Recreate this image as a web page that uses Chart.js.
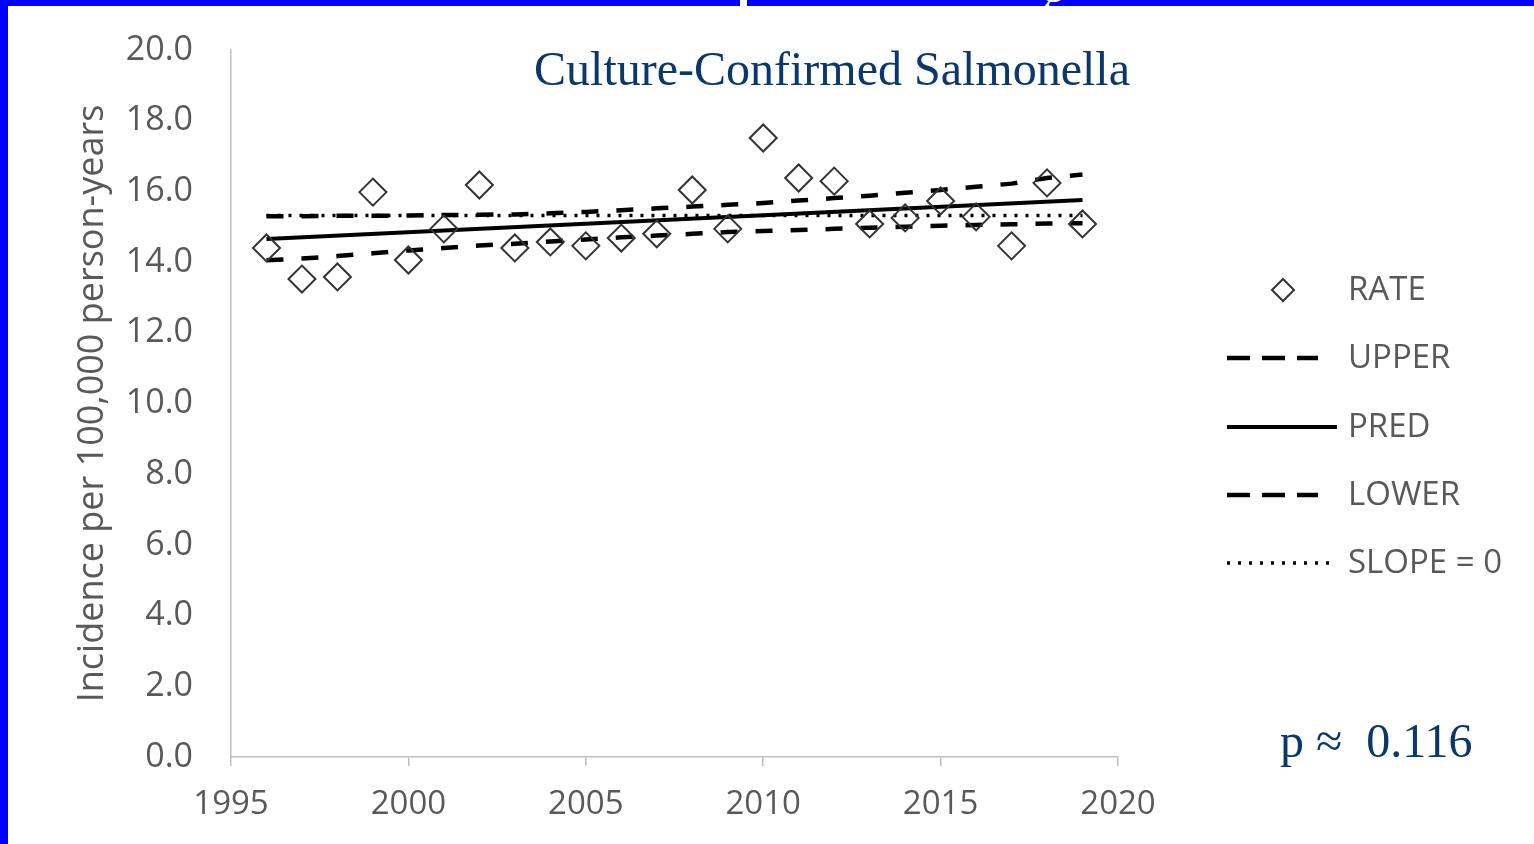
<!DOCTYPE html>
<html>
<head>
<meta charset="utf-8">
<script src="https://cdn.jsdelivr.net/npm/chart.js@4.4.1/dist/chart.umd.min.js"></script>
<style>
  html, body { margin: 0; padding: 0; background: #fff; overflow: hidden; }
  #wrap { position: relative; width: 1534px; height: 844px; }
  .blue { position: absolute; background: #0000ff; }
  #gap { position: absolute; left: 740px; top: 0; width: 7px; height: 6px; background: #fff; }
  #glyph { position: absolute; left: 1038px; top: 0; width: 30px; height: 6px; overflow: hidden; }
  #glyph span { position: absolute; left: 4px; top: -34px; font: 48px "Liberation Serif", serif; color: #fff; }
</style>
</head>
<body>
<div id="wrap">
  <canvas id="myChart"></canvas>
  <div class="blue" style="left:0;top:0;width:8px;height:844px"></div>
  <div class="blue" style="left:0;top:0;width:1534px;height:6px"></div>
  <div id="gap"></div>
  <div id="glyph"><span>g</span></div>
</div>
<script>
// values
var years = [1996, 1997, 1998, 1999, 2000, 2001, 2002, 2003, 2004, 2005, 2006, 2007,
             2008, 2009, 2010, 2011, 2012, 2013, 2014, 2015, 2016, 2017, 2018, 2019];
var rate = [14.40, 13.52, 13.58, 15.98, 14.06, 14.94, 16.18, 14.40, 14.57, 14.46, 14.68, 14.80,
            16.04, 14.94, 17.51, 16.38, 16.29, 15.08, 15.25, 15.73, 15.28, 14.46, 16.24, 15.08];
var upper = [15.30, 15.30, 15.31, 15.31, 15.32, 15.33, 15.34, 15.35, 15.38, 15.42, 15.47, 15.52,
             15.57, 15.62, 15.67, 15.74, 15.81, 15.88, 15.96, 16.04, 16.13, 16.22, 16.38, 16.48];
var lower = [14.05, 14.10, 14.17, 14.25, 14.33, 14.40, 14.47, 14.52, 14.58, 14.64, 14.70, 14.75,
             14.80, 14.85, 14.88, 14.91, 14.94, 14.97, 15.00, 15.03, 15.05, 15.07, 15.09, 15.10];
var lineYears = [1996, 2019];
var pred = [14.65, 15.76];
var slopeZero = [15.32, 15.32];

var seriesLabels = ['RATE', 'UPPER', 'PRED', 'LOWER', 'SLOPE = 0'];
var xTicks = [1995, 2000, 2005, 2010, 2015, 2020];

function pts(xs, ys) {
  return xs.map(function (x, i) { return { x: x, y: ys[i] }; });
}

var gray = '#595959';
var axisGray = '#bfbfbf';

var overlay = {
  id: 'overlay',
  afterDraw: function (chart) {
    var ctx = chart.ctx;
    ctx.save();
    // title
    ctx.fillStyle = '#0b386c';
    ctx.font = '48px "Liberation Serif", "Times New Roman", serif';
    ctx.textAlign = 'center';
    ctx.textBaseline = 'alphabetic';
    ctx.fillText('Culture-Confirmed Salmonella', 832, 85);
    // p value
    ctx.textAlign = 'left';
    ctx.fillText('p \u2248  0.116', 1280, 757);

    // legend
    var rows = [290, 358, 427, 495, 563];
    ctx.font = '33px "Open Sans", sans-serif';
    ctx.textBaseline = 'middle';
    chart.data.datasets.forEach(function (ds, i) {
      var y = rows[i];
      ctx.strokeStyle = '#000';
      if (ds.showLine === false) {
        ctx.lineWidth = 2;
        ctx.strokeStyle = '#333';
        ctx.setLineDash([]);
        ctx.beginPath();
        ctx.moveTo(1283, y - 11);
        ctx.lineTo(1294, y);
        ctx.lineTo(1283, y + 11);
        ctx.lineTo(1272, y);
        ctx.closePath();
        ctx.stroke();
      } else {
        var dash = ds.borderDash || [];
        var end = 1337;
        if (dash.length && dash[0] > 5) { dash = [23, 12]; end = 1318; }
        ctx.lineWidth = ds.borderWidth;
        ctx.setLineDash(dash);
        ctx.beginPath();
        ctx.moveTo(1227, y);
        ctx.lineTo(end, y);
        ctx.stroke();
      }
      ctx.setLineDash([]);
      ctx.fillStyle = gray;
      ctx.fillText(ds.label, 1348, y + 1);
    });
    ctx.restore();
  }
};

var ctx = document.getElementById('myChart').getContext('2d');
var myChart = new Chart(ctx, {
  type: 'line',
  data: {
    datasets: [{
      label: seriesLabels[0],
      data: pts(years, rate),
      showLine: false,
      pointStyle: 'rectRot',
      pointRadius: 13.5,
      pointBorderWidth: 2,
      pointBorderColor: '#333',
      pointBackgroundColor: 'rgba(0,0,0,0)'
    },
    {
      label: seriesLabels[1],
      data: pts(years, upper),
      borderColor: '#000',
      borderWidth: 4.5,
      borderDash: [17, 18],
      pointRadius: 0
    },
    {
      label: seriesLabels[2],
      data: pts(lineYears, pred),
      borderColor: '#000',
      borderWidth: 4,
      pointRadius: 0
    },
    {
      label: seriesLabels[3],
      data: pts(years, lower),
      borderColor: '#000',
      borderWidth: 4.5,
      borderDash: [17, 18],
      pointRadius: 0
    },
    {
      label: seriesLabels[4],
      data: pts(lineYears, slopeZero),
      borderColor: '#000',
      borderWidth: 3.5,
      borderDash: [3, 8],
      pointRadius: 0
    }]
  },
  options: {
    responsive: true,
    maintainAspectRatio: false,
    animation: false,
    layout: { padding: { left: 0, top: 50, right: 416, bottom: 0 } },
    plugins: {
      legend: { display: false },
      tooltip: { enabled: false }
    },
    scales: {
      x: {
        type: 'linear',
        min: 1995,
        max: 2020,
        afterBuildTicks: function (scale) {
          scale.ticks = xTicks.map(function (v) { return { value: v }; });
        },
        afterFit: function (scale) { scale.height = 87; },
        grid: { display: true, drawOnChartArea: false, drawTicks: true, tickLength: 9, color: axisGray, lineWidth: 1.5 },
        border: { display: true, color: axisGray, width: 1.5 },
        ticks: {
          padding: 19,
          color: gray,
          font: { family: '"Open Sans", sans-serif', size: 33 },
          callback: function (v) { return String(v); }
        }
      },
      y: {
        min: 0,
        max: 20,
        afterFit: function (scale) { scale.width = 231; },
        grid: { display: true, drawOnChartArea: false, drawTicks: true, tickLength: 34, tickColor: 'rgba(0,0,0,0)' },
        border: { display: true, color: axisGray, width: 1.5 },
        ticks: {
          stepSize: 2,
          padding: 4,
          color: gray,
          font: { family: '"Open Sans", sans-serif', size: 34 },
          callback: function (v) { return v.toFixed(1); }
        },
        title: {
          display: true,
          text: 'Incidence per 100,000 person-years',
          color: gray,
          font: { family: '"Open Sans", sans-serif', size: 36 },
          padding: { top: 71, bottom: 0 }
        }
      }
    }
  },
  plugins: [overlay]
});
</script>
</body>
</html>
